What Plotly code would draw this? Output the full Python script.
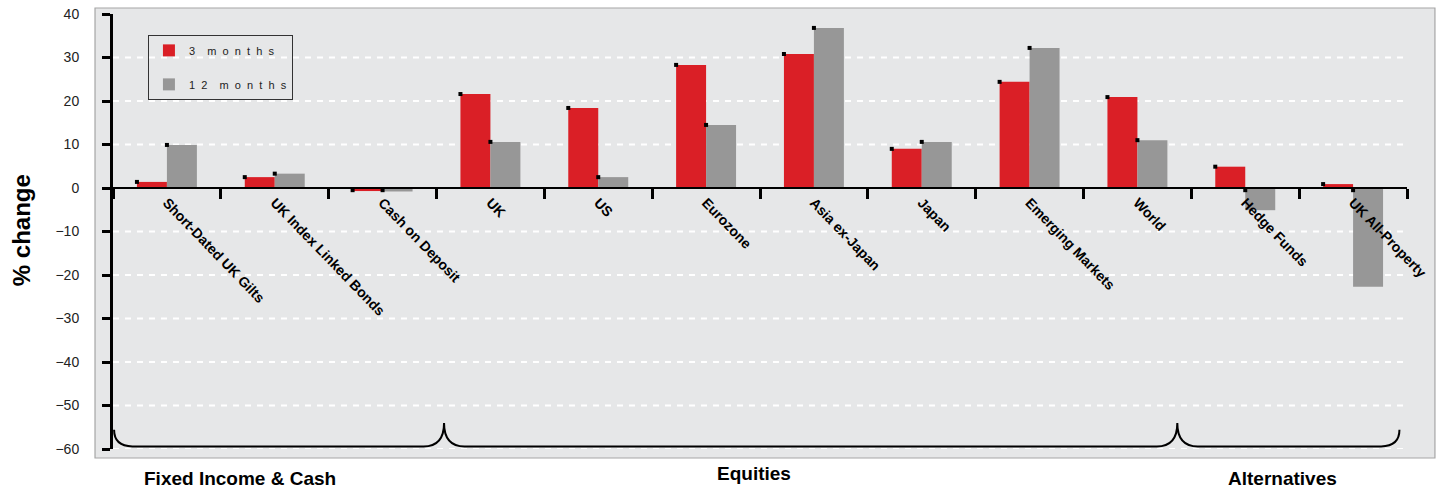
import plotly.graph_objects as go

# Asset classes along the x axis
categories = [
    "Short-Dated UK Gilts", "UK Index Linked Bonds", "Cash on Deposit",
    "UK", "US", "Eurozone", "Asia ex-Japan", "Japan",
    "Emerging Markets", "World", "Hedge Funds", "UK All-Property",
]

# Percentage change over each period
three_months = [1.4, 2.5, -0.7, 21.6, 18.4, 28.3, 30.8, 9.0, 24.4, 20.9, 4.9, 0.9]
twelve_months = [9.9, 3.3, -0.8, 10.6, 2.5, 14.5, 36.8, 10.6, 32.2, 11.0, -5.1, -22.7]

series_names = ["3 months", "12 months"]

y_ticks = [-60, -50, -40, -30, -20, -10, 0, 10, 20, 30, 40]

group_names = ["Fixed Income & Cash", "Equities", "Alternatives"]

RED = "#DA1F26"
GREY = "#979797"
PANEL = "#E6E7E8"
FONT = "Liberation Sans, Arial, sans-serif"
BAR_W = 0.278
NEG_MARK = -0.5


def spaced(text):
    """Spread the letters of a label apart with non-breaking spaces."""
    nb = "\u00a0"
    words = [(nb * 2).join(list(w)) for w in text.split(" ")]
    return (nb * 4).join(words)


pos = list(range(len(categories)))

fig = go.Figure()
fig.add_trace(go.Bar(
    x=pos, y=three_months, width=BAR_W, offset=-BAR_W,
    marker=dict(color=RED, line=dict(width=0)),
    name=spaced(series_names[0]), legendgroup="a",
))
fig.add_trace(go.Bar(
    x=pos, y=twelve_months, width=BAR_W, offset=0,
    marker=dict(color=GREY, line=dict(width=0)),
    name=spaced(series_names[1]), legendgroup="b",
))

# Small black value markers at the top-left corner of each bar
mx = [p - BAR_W for p in pos] + pos
my = [v if v > 0 else NEG_MARK for v in three_months + twelve_months]
fig.add_trace(go.Scatter(
    x=mx, y=my, mode="markers", showlegend=False, hoverinfo="skip",
    marker=dict(symbol="square", size=4, color="black"),
    cliponaxis=False,
))

shapes = []
# Grey panel behind the chart
shapes.append(dict(
    type="rect", xref="paper", yref="paper", layer="below",
    x0=-0.0139, x1=1.0216, y0=-0.0207, y1=1.0138,
    fillcolor=PANEL, line=dict(color="#A6A6A6", width=1.2),
))
# Dashed white grid lines
for t in y_ticks[:-1]:
    shapes.append(dict(
        type="line", xref="x", yref="y", layer="below",
        x0=-0.5, x1=len(categories) - 0.5, y0=t, y1=t,
        line=dict(color="white", width=2, dash="6px,6px"),
    ))

# Curly braces grouping the asset classes
yb, yh, yp = -59.4, -55.6, -54.0
xl, p1, p2, xr = -0.49, 2.57, 9.37, 11.43
hook, cusp = 0.17, 0.19
brace = (
    f"M {xl},{yh} Q {xl},{yb} {xl + hook},{yb} "
    f"L {p1 - cusp},{yb} Q {p1},{yb} {p1},{yp} "
    f"Q {p1},{yb} {p1 + cusp},{yb} "
    f"L {p2 - cusp},{yb} Q {p2},{yb} {p2},{yp} "
    f"Q {p2},{yb} {p2 + cusp},{yb} "
    f"L {xr - hook},{yb} Q {xr},{yb} {xr},{yh}"
)
shapes.append(dict(type="path", xref="x", yref="y", path=brace,
                   line=dict(color="black", width=2)))

annotations = [
    dict(text="% change", xref="paper", yref="paper", x=0, y=0.503,
         xanchor="center", yanchor="middle",
         xshift=-92, textangle=-90, showarrow=False,
         font=dict(family=FONT, size=24, color="black", weight="bold")),
]
for name, gx, ys in zip(group_names, [0.678, 5.44, 10.35], [-29, -24, -29]):
    annotations.append(dict(
        text=name, xref="x", yref="paper", x=gx, y=0, yshift=ys,
        xanchor="center", yanchor="middle", showarrow=False,
        font=dict(family=FONT, size=19, color="black", weight="bold"),
    ))

fig.update_layout(
    template="none",
    width=1441, height=489,
    margin=dict(l=113, r=34, t=14, b=40, pad=0),
    paper_bgcolor="white", plot_bgcolor="rgba(0,0,0,0)",
    font=dict(family=FONT, color="#222222"),
    barmode="overlay",
    showlegend=True,
    legend=dict(
        x=0.027, y=0.952, xanchor="left", yanchor="top",
        bgcolor="rgba(0,0,0,0)", bordercolor="#333333", borderwidth=1,
        font=dict(family=FONT, size=11, color="#222222"),
        traceorder="grouped", tracegroupgap=15,
        entrywidth=112, entrywidthmode="pixels",
    ),
    shapes=shapes,
    annotations=annotations,
    xaxis=dict(
        range=[-0.5, len(categories) - 0.5],
        anchor="free", position=0.6, automargin=False,
        tickmode="array", tickvals=pos, ticktext=categories,
        tickangle=46, ticks="",
        tickfont=dict(family=FONT, size=14, color="black", weight="bold"),
        showline=True, linecolor="black", linewidth=2,
        showgrid=False, zeroline=False,
        minor=dict(
            tickmode="array",
            tickvals=[p - 0.5 for p in pos] + [len(categories) - 0.5],
            ticks="outside", ticklen=10, tickwidth=3, tickcolor="black",
            showgrid=False,
        ),
    ),
    yaxis=dict(
        range=[-60, 40], automargin=False,
        tickmode="array", tickvals=y_ticks,
        ticks="outside", ticklen=8, tickwidth=3, tickcolor="black",
        ticklabelstandoff=20,
        tickfont=dict(family=FONT, size=14, color="#222222"),
        showline=True, linecolor="black", linewidth=3,
        showgrid=False, zeroline=False,
    ),
)

fig.write_html("out.html")
